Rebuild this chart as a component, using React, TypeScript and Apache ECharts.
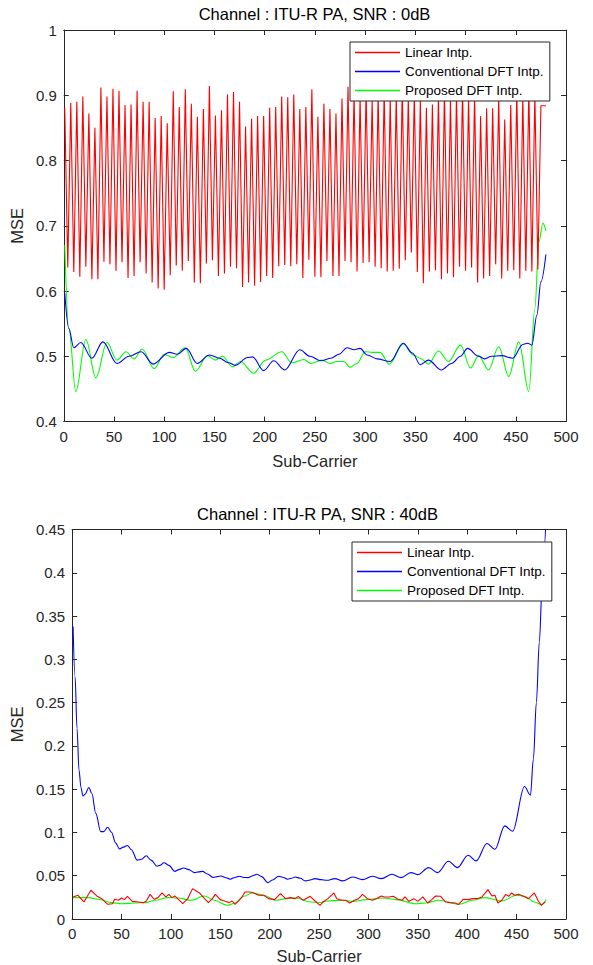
import React, { useEffect, useRef } from "react";
import * as echarts from "echarts";

const seriesNames = ["Linear Intp.", "Conventional DFT Intp.", "Proposed DFT Intp."];
const seriesColors = ["#FF0000", "#0000FF", "#00FF00"];
const titles = ["Channel : ITU-R PA, SNR : 0dB", "Channel : ITU-R PA, SNR : 40dB"];

// Top plot (SNR 0 dB): linear interpolation, pilots every 6 sub-carriers
const pilotSpacing = 6;
const topLinearPeaks = [
  0.881, 0.888, 0.890, 0.898, 0.872, 0.850, 0.912, 0.898, 0.910, 0.907,
  0.885, 0.886, 0.907, 0.890, 0.890, 0.865, 0.868, 0.857, 0.906, 0.882,
  0.909, 0.887, 0.867, 0.879, 0.914, 0.869, 0.877, 0.901, 0.905, 0.890,
  0.852, 0.864, 0.868, 0.868, 0.881, 0.882, 0.898, 0.897, 0.901, 0.879,
  0.882, 0.909, 0.867, 0.887, 0.879, 0.872, 0.895, 0.913, 0.905, 0.898,
  0.910, 0.893, 0.902, 0.908, 0.895, 0.900, 0.912, 0.897, 0.904, 0.893,
  0.881, 0.886, 0.899, 0.907, 0.894, 0.903, 0.911, 0.896, 0.901, 0.868,
  0.880, 0.880, 0.897, 0.863, 0.885, 0.906, 0.899, 0.909, 0.902, 0.884,
];
const topLinearTroughs = [
  0.636, 0.629, 0.622, 0.637, 0.618, 0.618, 0.645, 0.641, 0.631, 0.644,
  0.620, 0.623, 0.644, 0.627, 0.613, 0.604, 0.602, 0.624, 0.639, 0.631,
  0.646, 0.613, 0.612, 0.642, 0.647, 0.623, 0.627, 0.637, 0.635, 0.606,
  0.613, 0.608, 0.614, 0.623, 0.620, 0.638, 0.640, 0.638, 0.641, 0.620,
  0.648, 0.622, 0.621, 0.646, 0.623, 0.623, 0.646, 0.644, 0.630, 0.643,
  0.644, 0.637, 0.635, 0.630, 0.631, 0.634, 0.647, 0.659, 0.629, 0.612,
  0.630, 0.632, 0.618, 0.627, 0.621, 0.637, 0.631, 0.636, 0.613, 0.619,
  0.623, 0.641, 0.619, 0.631, 0.632, 0.619, 0.631, 0.630, 0.633,
];
const topLinearTail: [number, number] = [480, 0.884];

const topConventional: [number, number][] = [
  [1, 0.597], [5, 0.543], [10, 0.513], [17, 0.521], [28, 0.497], [39, 0.522], [53, 0.489],
  [65, 0.500], [77, 0.507], [89, 0.488], [105, 0.506], [113, 0.503], [122, 0.512], [133, 0.489],
  [145, 0.502], [155, 0.497], [164, 0.490], [171, 0.486], [183, 0.498], [188, 0.499], [199, 0.478],
  [209, 0.493], [220, 0.479], [235, 0.510], [245, 0.500], [256, 0.493], [266, 0.497], [274, 0.503],
  [282, 0.513], [289, 0.510], [295, 0.512], [302, 0.502], [312, 0.496], [325, 0.492], [338, 0.520],
  [347, 0.505], [355, 0.487], [363, 0.494], [376, 0.479], [386, 0.489], [395, 0.500], [402, 0.512],
  [413, 0.500], [419, 0.496], [426, 0.500], [436, 0.501], [447, 0.497], [457, 0.518], [462, 0.520],
  [466, 0.517], [471, 0.563], [475, 0.614], [480, 0.656],
];
const topProposed: [number, number][] = [
  [1, 0.670], [5, 0.543], [12, 0.446], [22, 0.526], [32, 0.467], [43, 0.521], [53, 0.494],
  [62, 0.507], [70, 0.496], [78, 0.511], [90, 0.481], [100, 0.503], [109, 0.498], [121, 0.513],
  [131, 0.477], [143, 0.501], [151, 0.494], [158, 0.500], [168, 0.484], [176, 0.492], [189, 0.474],
  [201, 0.494], [217, 0.507], [227, 0.490], [239, 0.495], [246, 0.489], [257, 0.494], [265, 0.489],
  [272, 0.492], [279, 0.492], [285, 0.483], [292, 0.489], [300, 0.507], [307, 0.506], [315, 0.506],
  [324, 0.488], [338, 0.519], [348, 0.502], [355, 0.497], [363, 0.488], [373, 0.508], [383, 0.492],
  [395, 0.517], [405, 0.482], [413, 0.501], [423, 0.479], [433, 0.515], [443, 0.469], [453, 0.522],
  [463, 0.446], [469, 0.573], [473, 0.675], [477, 0.704], [480, 0.692],
];

// Bottom plot (SNR 40 dB)
const bottomLinear: [number, number][] = [
  [1, 0.0255], [6, 0.0274], [12, 0.0197], [19, 0.0332], [25, 0.0266], [30, 0.0235], [36, 0.017],
  [41, 0.0177], [43, 0.0228], [47, 0.0216], [50, 0.0243], [53, 0.0224], [56, 0.0262], [61, 0.0204],
  [67, 0.0197], [72, 0.0189], [75, 0.0204], [79, 0.0285], [83, 0.0228], [87, 0.0247], [91, 0.0301],
  [95, 0.0255], [98, 0.0285], [101, 0.0247], [104, 0.0266], [112, 0.0177], [117, 0.0235], [122, 0.0351],
  [129, 0.0301], [134, 0.0235], [138, 0.0189], [142, 0.0235], [145, 0.0285], [150, 0.0224], [155, 0.0204],
  [159, 0.0189], [162, 0.0208], [165, 0.017], [169, 0.0216], [172, 0.0255], [175, 0.0312], [180, 0.0312],
  [184, 0.0301], [189, 0.0274], [194, 0.0274], [199, 0.0235], [205, 0.0224], [211, 0.0293], [216, 0.0235],
  [221, 0.0247], [226, 0.0235], [229, 0.0262], [234, 0.0216], [241, 0.0262], [246, 0.0208], [251, 0.0158],
  [254, 0.0197], [259, 0.0235], [265, 0.0301], [268, 0.0235], [273, 0.0216], [277, 0.0216], [281, 0.0185],
  [286, 0.0216], [290, 0.0235], [294, 0.0285], [299, 0.0235], [304, 0.0216], [308, 0.0235], [313, 0.0266],
  [316, 0.0255], [321, 0.0255], [325, 0.0262], [330, 0.0228], [334, 0.0216], [337, 0.0255], [341, 0.0204],
  [346, 0.0235], [350, 0.0204], [355, 0.0255], [360, 0.0185], [364, 0.0224], [368, 0.0266], [373, 0.0262],
  [378, 0.0197], [383, 0.0189], [388, 0.0185], [391, 0.0166], [396, 0.0228], [401, 0.0224], [405, 0.0235],
  [410, 0.0235], [415, 0.0255], [421, 0.0339], [425, 0.0266], [428, 0.0274], [431, 0.0185], [435, 0.0216],
  [439, 0.0285], [442, 0.0262], [445, 0.0301], [448, 0.0274], [452, 0.0285], [457, 0.0262], [462, 0.0235],
  [468, 0.0301], [472, 0.0208], [475, 0.0158], [479, 0.0197],
];
const bottomConventional: [number, number][] = [
  [1, 0.338], [3, 0.28], [5, 0.22], [7, 0.172], [9, 0.152], [11, 0.142], [13, 0.144], [17, 0.152],
  [20, 0.145], [24, 0.122], [29, 0.101], [32, 0.101], [36, 0.106], [40, 0.100], [44, 0.088], [48, 0.081],
  [52, 0.083], [56, 0.085], [60, 0.080], [66, 0.068], [70, 0.069], [75, 0.073], [80, 0.068], [86, 0.061],
  [89, 0.062], [93, 0.065], [98, 0.062], [104, 0.055], [108, 0.057], [113, 0.059], [118, 0.057],
  [124, 0.0536], [128, 0.0545], [132, 0.055], [137, 0.052], [143, 0.048], [147, 0.049], [151, 0.0497],
  [155, 0.048], [160, 0.046], [165, 0.048], [169, 0.0494], [174, 0.048], [178, 0.0478], [183, 0.050],
  [187, 0.0517], [192, 0.049], [198, 0.042], [203, 0.045], [209, 0.0494], [214, 0.048], [218, 0.046],
  [222, 0.047], [226, 0.0486], [231, 0.047], [236, 0.044], [241, 0.045], [246, 0.0467], [252, 0.0455],
  [258, 0.0447], [266, 0.0467], [274, 0.044], [284, 0.0486], [294, 0.0455], [304, 0.0494], [313, 0.0467],
  [324, 0.0517], [333, 0.0478], [343, 0.0536], [350, 0.0513], [361, 0.0594], [370, 0.0536], [381, 0.0667],
  [390, 0.0594], [401, 0.0737], [409, 0.0671], [420, 0.0872], [428, 0.0806], [438, 0.1076], [446, 0.1014],
  [458, 0.153], [464, 0.143], [467, 0.185], [470, 0.25], [473, 0.32], [476, 0.39], [478, 0.43], [480, 0.47],
];
const bottomProposed: [number, number][] = [
  [1, 0.0247], [17, 0.0247], [27, 0.0228], [40, 0.0189], [50, 0.0177], [64, 0.0185], [74, 0.0189],
  [84, 0.0216], [97, 0.0247], [107, 0.0243], [120, 0.0216], [134, 0.0266], [144, 0.0216], [157, 0.0158],
  [165, 0.0185], [174, 0.0262], [182, 0.0301], [194, 0.0274], [206, 0.0216], [217, 0.0235], [227, 0.0243],
  [241, 0.0197], [251, 0.019], [258, 0.0208], [274, 0.0216], [284, 0.0204], [298, 0.0224], [315, 0.0243],
  [328, 0.0224], [348, 0.0177], [358, 0.0185], [371, 0.0216], [392, 0.017], [405, 0.0216], [418, 0.0247],
  [435, 0.0208], [450, 0.0274], [458, 0.0262], [468, 0.0197], [475, 0.0166], [480, 0.0224],
];

const xTicks = { min: 0, max: 500, interval: 50 };
const topY = { min: 0.4, max: 1, interval: 0.1 };
const bottomY = { min: 0, max: 0.45, interval: 0.05 };

const FONT = "'Liberation Sans', Arial, Helvetica, sans-serif";
const AX = "#262626";

function buildTopLinear(): [number, number][] {
  const out: [number, number][] = [];
  for (let k = 0; k < topLinearPeaks.length; k++) {
    out.push([1 + k * pilotSpacing, topLinearPeaks[k]]);
    if (k < topLinearTroughs.length) out.push([4 + k * pilotSpacing, topLinearTroughs[k]]);
  }
  out.push(topLinearTail);
  return out;
}

export default function App() {
  const ref = useRef<HTMLDivElement>(null);
  useEffect(() => {
    if (!ref.current) return;
    const chart = echarts.init(ref.current, undefined, { renderer: "svg" });

    const grids = [
      { left: 63, top: 30, width: 503, height: 391.5 },
      { left: 69, top: 529.5, width: 497, height: 389.5 },
    ];
    const yRanges = [topY, bottomY];
    const nameGapsX = [31, 28];
    const nameGapsY = [37, 43];

    const xAxes: any[] = [];
    const yAxes: any[] = [];
    grids.forEach((g, i) => {
      const tick = { show: true, inside: true, length: 5, lineStyle: { color: AX, width: 1 } };
      const line = { show: true, lineStyle: { color: AX, width: 1 } };
      xAxes.push({
        gridIndex: i, type: "value", ...xTicks, position: "bottom",
        axisLine: { ...line, onZero: false }, axisTick: tick, splitLine: { show: false },
        axisLabel: { color: AX, fontSize: 15, fontFamily: FONT, margin: 7 },
        name: "Sub-Carrier", nameLocation: "middle", nameGap: nameGapsX[i],
        nameTextStyle: { color: AX, fontSize: 16.5, fontFamily: FONT },
      });
      xAxes.push({
        gridIndex: i, type: "value", ...xTicks, position: "top",
        axisLine: { ...line, onZero: false }, axisTick: tick, splitLine: { show: false },
        axisLabel: { show: false },
      });
      yAxes.push({
        gridIndex: i, type: "value", ...yRanges[i], position: "left",
        axisLine: { ...line, onZero: false }, axisTick: tick, splitLine: { show: false },
        axisLabel: { color: AX, fontSize: 15, fontFamily: FONT, margin: 7 },
        name: "MSE", nameLocation: "middle", nameGap: nameGapsY[i],
        nameTextStyle: { color: AX, fontSize: 16.5, fontFamily: FONT },
      });
      yAxes.push({
        gridIndex: i, type: "value", ...yRanges[i], position: "right",
        axisLine: { ...line, onZero: false }, axisTick: tick, splitLine: { show: false },
        axisLabel: { show: false },
      });
    });

    const mk = (idx: number, grid: number, data: [number, number][], smooth: boolean) => ({
      name: seriesNames[idx],
      type: "line",
      xAxisIndex: grid * 2,
      yAxisIndex: grid * 2,
      data,
      color: seriesColors[idx],
      showSymbol: false,
      symbol: "none",
      smooth: smooth ? 0.35 : false,
      smoothMonotone: smooth ? "x" : undefined,
      lineStyle: { width: 1.1, color: seriesColors[idx] },
      clip: true,
      z: 3 - idx,
    });

    const legendBase = {
      orient: "vertical",
      data: seriesNames,
      icon: "rect",
      itemWidth: 45,
      itemHeight: 1.5,
      itemGap: 0,
      padding: [1, 6, 1, 5],
      backgroundColor: "#fff",
      borderColor: AX,
      borderWidth: 1,
      borderRadius: 0,
      selectedMode: false,
      textStyle: { color: "#000", fontSize: 13.5, fontFamily: FONT, lineHeight: 19 },
    };

    const option: any = {
      animation: false,
      backgroundColor: "#fff",
      title: titles.map((t, i) => ({
        text: t,
        left: grids[i].left + grids[i].width / 2,
        top: grids[i].top - 26,
        textAlign: "center",
        padding: 0,
        textStyle: { color: "#000", fontSize: 16.5, fontWeight: "normal", fontFamily: FONT, lineHeight: 20 },
      })),
      grid: grids.map((g) => ({ ...g, containLabel: false })),
      xAxis: xAxes,
      yAxis: yAxes,
      legend: [
        { ...legendBase, left: 350, top: 42 },
        { ...legendBase, left: 352, top: 542 },
      ],
      series: [
        mk(0, 0, buildTopLinear(), false),
        mk(1, 0, topConventional, true),
        mk(2, 0, topProposed, true),
        mk(0, 1, bottomLinear, false),
        mk(1, 1, bottomConventional, true),
        mk(2, 1, bottomProposed, true),
      ],
    };
    chart.setOption(option);
    return () => chart.dispose();
  }, []);
  return (
    <div
      ref={ref}
      style={{ position: "fixed", left: 0, top: 0, width: 593, height: 965, background: "#fff" }}
    />
  );
}
